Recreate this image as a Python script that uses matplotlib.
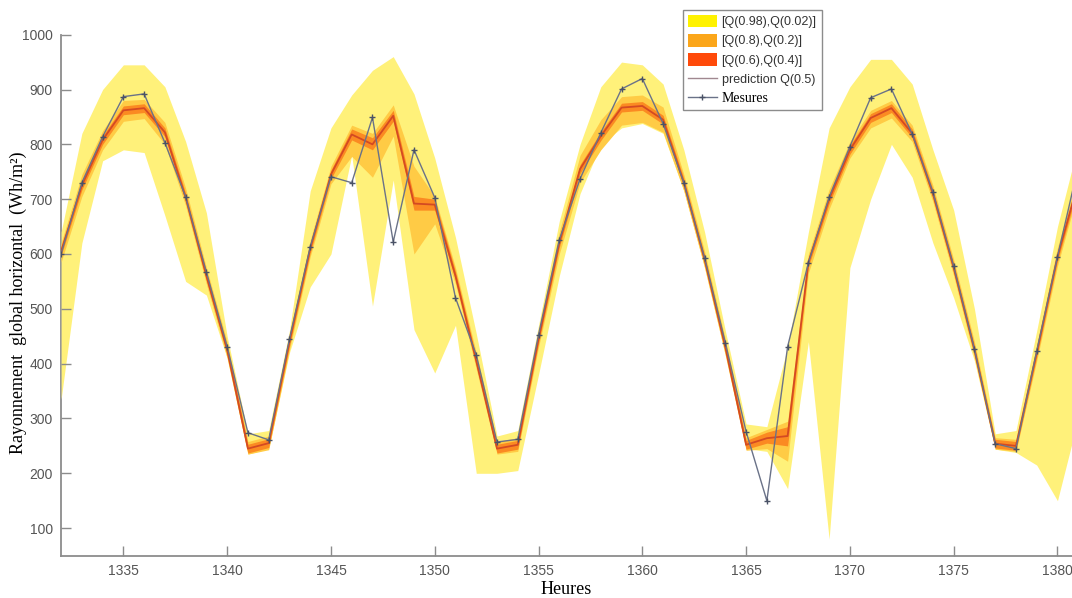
import matplotlib
matplotlib.use("Agg")
import matplotlib.pyplot as plt
from matplotlib.patches import Patch
from matplotlib.lines import Line2D

# hours
heures = list(range(1332, 1382))

# measured values (Wh/m2)
mesures = [600, 730, 814, 887, 892, 803, 704, 567, 431, 274,
           261, 445, 613, 741, 730, 849, 622, 790, 703, 520,
           416, 257, 262, 453, 626, 737, 821, 901, 920, 838,
           730, 593, 438, 276, 150, 431, 584, 704, 796, 885,
           901, 819, 713, 578, 427, 254, 245, 423, 595, 760]

# median prediction Q(0.5)
q50 = [605, 725, 808, 862, 866, 822, 703, 560, 425, 245,
       255, 440, 610, 745, 818, 800, 852, 692, 690, 560,
       405, 245, 252, 445, 620, 755, 815, 867, 870, 845,
       730, 590, 430, 252, 264, 268, 585, 700, 790, 848,
       866, 820, 710, 575, 425, 254, 250, 420, 595, 730]

q60 = [613, 733, 816, 870, 874, 830, 711, 568, 433, 253,
       263, 448, 618, 753, 828, 812, 862, 705, 700, 568,
       413, 253, 260, 453, 628, 763, 823, 875, 878, 853,
       738, 598, 438, 260, 275, 285, 593, 708, 798, 856,
       874, 828, 718, 583, 433, 262, 258, 428, 603, 738]

q40 = [597, 717, 800, 854, 858, 814, 695, 552, 417, 237,
       247, 432, 602, 737, 808, 790, 842, 680, 680, 552,
       397, 237, 244, 437, 612, 747, 807, 859, 862, 837,
       722, 582, 422, 244, 255, 250, 577, 692, 782, 840,
       858, 812, 702, 567, 417, 246, 242, 412, 587, 722]

q80 = [620, 745, 825, 880, 882, 840, 720, 575, 440, 258,
       268, 455, 625, 760, 835, 820, 872, 760, 705, 575,
       420, 258, 265, 460, 640, 780, 845, 887, 890, 868,
       745, 605, 445, 265, 280, 295, 600, 718, 805, 862,
       880, 835, 725, 590, 440, 265, 262, 435, 612, 745]

q20 = [585, 705, 790, 842, 847, 800, 688, 545, 410, 235,
       243, 425, 595, 728, 778, 740, 815, 600, 655, 545,
       390, 235, 240, 430, 600, 730, 790, 835, 840, 822,
       715, 575, 415, 242, 245, 222, 565, 682, 775, 830,
       848, 805, 695, 560, 410, 244, 240, 405, 578, 715]

q98 = [640, 820, 900, 945, 945, 905, 805, 675, 450, 272,
       278, 460, 715, 830, 890, 935, 960, 892, 775, 630,
       455, 268, 278, 470, 660, 800, 905, 950, 945, 910,
       790, 640, 460, 290, 285, 430, 640, 830, 905, 955,
       955, 910, 790, 680, 500, 272, 278, 460, 650, 800]

q02 = [335, 620, 770, 790, 785, 670, 550, 525, 410, 235,
       245, 420, 540, 600, 780, 505, 735, 462, 383, 470,
       200, 200, 205, 380, 560, 710, 800, 830, 838, 820,
       715, 575, 415, 245, 240, 172, 440, 80, 575, 700,
       800, 740, 620, 520, 405, 244, 238, 215, 150, 300]

c_yellow = "#FFF17A"
c_orange = "#FFCB45"
c_red = "#FB8A22"

fig = plt.figure(figsize=(10.72, 5.98), dpi=100)
ax = fig.add_axes([0.057, 0.071, 0.943, 0.871])

ax.fill_between(heures, q02, q98, color=c_yellow, lw=0, zorder=1)
ax.fill_between(heures, q20, q80, color=c_orange, lw=0, zorder=2)
ax.fill_between(heures, q40, q60, color=c_red, lw=0, zorder=3)
ax.plot(heures, q50, color="#D44A22", lw=1.3, zorder=4)
ax.plot(heures, mesures, color="#6A7288", lw=1.0, marker="+", ms=5,
        mec="#4A5266", mew=1.0, zorder=5)

ax.set_xlim(1332, 1380.7)
ax.set_ylim(50, 1000)
ax.set_xticks(range(1335, 1381, 5))
ax.set_yticks(range(100, 1001, 100))

for s in ["top", "right"]:
    ax.spines[s].set_visible(False)
for s in ["left", "bottom"]:
    ax.spines[s].set_color("#8C8C8C")
    ax.spines[s].set_linewidth(1.3)
    ax.spines[s].set_zorder(0)

ax.tick_params(direction="in", length=7, width=1, color="#8C8C8C",
               labelcolor="#555555", labelsize=10, pad=6)
for lab in ax.get_xticklabels() + ax.get_yticklabels():
    lab.set_family("Liberation Sans")

ax.set_xlabel("Heures", family="Liberation Serif", fontsize=13, labelpad=2)
ax.set_ylabel("Rayonnement  global horizontal  (Wh/m²)",
              family="Liberation Serif", fontsize=13)
ax.yaxis.set_label_coords(-0.034, 0.485)

handles = [
    Patch(facecolor="#FFF200", edgecolor="none"),
    Patch(facecolor="#FBA61A", edgecolor="none"),
    Patch(facecolor="#FF4A0A", edgecolor="none"),
    Line2D([], [], color="#A08890", lw=1),
    Line2D([], [], color="#6A7288", lw=1, marker="+", ms=5, mec="#4A5266"),
]
labels = ["[Q(0.98),Q(0.02)]", "[Q(0.8),Q(0.2)]", "[Q(0.6),Q(0.4)]",
          "prediction Q(0.5)", "Mesures"]
leg = ax.legend(handles, labels, loc="upper left",
                bbox_to_anchor=(0.637, 0.984), bbox_transform=fig.transFigure,
                borderaxespad=0, fontsize=9, fancybox=False, framealpha=1,
                edgecolor="#8C8C8C", handlelength=2.3, handleheight=1.2,
                labelspacing=0.45, borderpad=0.4, handletextpad=0.4)
leg.get_frame().set_linewidth(1.0)
for t in leg.get_texts()[:4]:
    t.set_family("Liberation Sans")
    t.set_color("#333333")
leg.get_texts()[4].set_family("Liberation Serif")
leg.get_texts()[4].set_fontsize(10)

fig.savefig("out.png", dpi=100)
